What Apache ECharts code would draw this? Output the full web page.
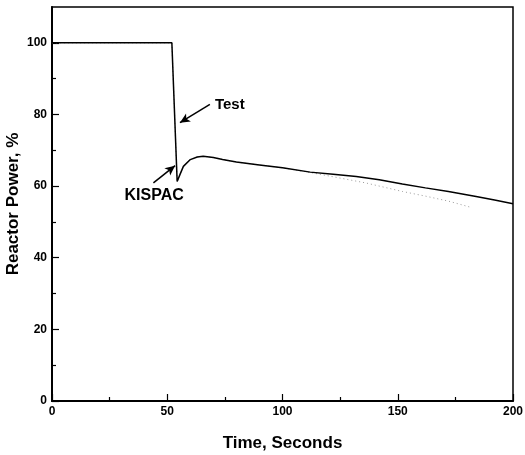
<!DOCTYPE html>
<html><head><meta charset="utf-8">
<script src="https://cdn.jsdelivr.net/npm/echarts@6/dist/echarts.min.js"></script>
<style>html,body{margin:0;padding:0;background:#fff}#c{width:525px;height:455px}</style>
</head><body><div id="c"></div>
<script>
var testTime  = [0, 52, 54.3, 55.5, 57, 60, 63, 65.6, 70, 74, 80, 90, 100, 112, 122, 132, 142, 152, 162, 172, 184, 192, 200];
var testPower = [100, 100, 61.3, 63.2, 65.5, 67.4, 68.1, 68.3, 68.0, 67.4, 66.7, 65.9, 65.1, 63.9, 63.3, 62.7, 61.8, 60.6, 59.5, 58.5, 57.1, 56.1, 55.1];
var kispacTime  = [0, 52, 54.3, 55.5, 57, 60, 63, 65.6, 70, 74, 80, 90, 100, 112, 122, 136, 152, 162, 172, 181];
var kispacPower = [100, 100, 61.3, 63.2, 65.5, 67.4, 68.1, 68.3, 68.0, 67.4, 66.7, 65.9, 65.1, 63.8, 62.6, 60.9, 58.5, 57.2, 55.8, 54.2];
var xMajor = [0, 50, 100, 150, 200];
var xMinor = [25, 75, 125, 175];
var yMajor = [0, 20, 40, 60, 80, 100];
var yMinor = [10, 30, 50, 70, 90];
var testArrow = [[68.5, 82.8], [55.5, 77.7]];
var kispacArrow = [[44.0, 60.9], [53.4, 65.7]];
var testLabelPos = [70.7, 82.7];
var kispacLabelPos = [44.3, 57.3];

function zip(a, b) { return a.map(function (v, i) { return [v, b[i]]; }); }
var chart = echarts.init(document.getElementById('c'));
var font = 'Liberation Sans';
var lbl = {color: '#000', fontFamily: font, fontWeight: 'bold', fontSize: 12, margin: 5};
chart.setOption({
  animation: false,
  backgroundColor: '#fff',
  grid: {left: 52, right: 12, top: 7, bottom: 54, outerBoundsMode: 'none', containLabel: false, show: true, borderColor: '#000', borderWidth: 1.5, backgroundColor: 'transparent'},
  xAxis: [{
    type: 'value', min: 0, max: 200, interval: 50,
    name: 'Time, Seconds', nameLocation: 'middle', nameGap: 34, nameMoveOverlap: false,
    nameTextStyle: {color: '#000', fontFamily: font, fontWeight: 'bold', fontSize: 17},
    axisLine: {show: true, lineStyle: {color: '#000', width: 2}},
    axisTick: {show: true, inside: true, length: 7, lineStyle: {color: '#000', width: 1.2}, customValues: xMajor},
    axisLabel: Object.assign({customValues: xMajor}, lbl),
    splitLine: {show: false}
  }, {
    type: 'value', min: 0, max: 200, position: 'bottom', gridIndex: 0,
    axisLine: {show: false},
    axisTick: {show: true, inside: true, length: 4, lineStyle: {color: '#000', width: 1.2}, customValues: xMinor},
    axisLabel: {show: false}, splitLine: {show: false}
  }],
  yAxis: [{
    type: 'value', min: 0, max: 110, interval: 20,
    name: 'Reactor Power, %', nameLocation: 'middle', nameGap: 30, nameMoveOverlap: false,
    nameTextStyle: {color: '#000', fontFamily: font, fontWeight: 'bold', fontSize: 17},
    axisLine: {show: true, lineStyle: {color: '#000', width: 2}},
    axisTick: {show: true, inside: true, length: 7, lineStyle: {color: '#000', width: 1.2}, customValues: yMajor},
    axisLabel: Object.assign({customValues: yMajor}, lbl, {margin: 5}),
    splitLine: {show: false}
  }, {
    type: 'value', min: 0, max: 110, position: 'left',
    axisLine: {show: false},
    axisTick: {show: true, inside: true, length: 4, lineStyle: {color: '#000', width: 1.2}, customValues: yMinor},
    axisLabel: {show: false}, splitLine: {show: false}
  }],
  series: [{
    name: 'KISPAC', type: 'line', data: zip(kispacTime, kispacPower), showSymbol: false, z: 1,
    lineStyle: {color: '#999', width: 1, type: [1, 3]}
  }, {
    name: 'Test', type: 'line', data: zip(testTime, testPower), showSymbol: false, z: 2,
    lineStyle: {color: '#000', width: 1.5},
    markLine: {
      silent: true, symbol: ['none', 'arrow'], symbolSize: [7, 10],
      lineStyle: {color: '#000', width: 1.5, type: 'solid'}, label: {show: false},
      data: [
        [{coord: testArrow[0]}, {coord: testArrow[1]}],
        [{coord: kispacArrow[0]}, {coord: kispacArrow[1]}]
      ]
    },
    markPoint: {
      silent: true, symbol: 'circle', symbolSize: 0,
      label: {show: true, color: '#000', fontFamily: font, fontWeight: 'bold'},
      data: [
        {coord: testLabelPos, label: {formatter: 'Test', position: 'right', distance: 0, fontSize: 15}},
        {coord: kispacLabelPos, label: {formatter: 'KISPAC', position: 'inside', fontSize: 16}}
      ]
    }
  }]
});
</script></body></html>
